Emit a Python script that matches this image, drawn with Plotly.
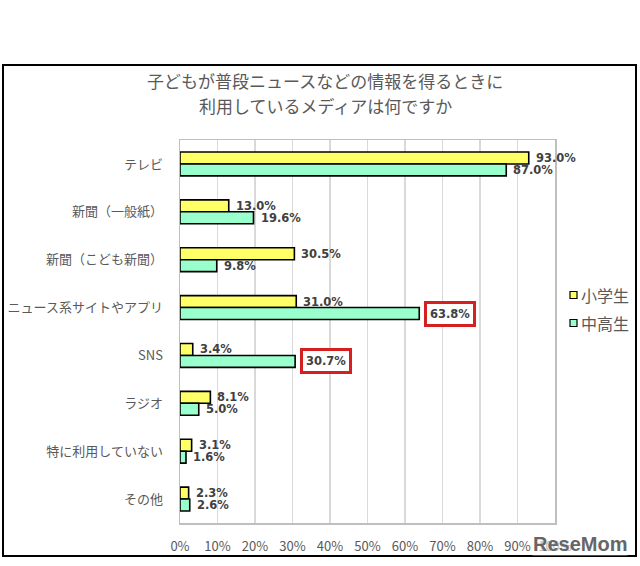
import plotly.graph_objects as go

categories = ["テレビ", "新聞（一般紙）", "新聞（こども新聞）", "ニュース系サイトやアプリ",
              "SNS", "ラジオ", "特に利用していない", "その他"]
elementary = [93.0, 13.0, 30.5, 31.0, 3.4, 8.1, 3.1, 2.3]
secondary = [87.0, 19.6, 9.8, 63.8, 30.7, 5.0, 1.6, 2.6]
series_names = ["小学生", "中高生"]
highlighted = {("中高生", "ニュース系サイトやアプリ"), ("中高生", "SNS")}
x_ticks = list(range(0, 101, 10))
x_tick_labels = [f"{t}%" for t in x_ticks]
title_lines = ["子どもが普段ニュースなどの情報を得るときに", "利用しているメディアは何ですか"]

FONT = "Noto Sans CJK JP, Noto Sans, sans-serif"
NUMFONT = "DejaVu Sans, Verdana, sans-serif"
GRAY = "#595959"
colors = ["#FFFF66", "#99FFCC"]

# plot-area pixel geometry helpers (plot area: x 180..555, y 140..523)
L, R, T, B = 180, 555, 140, 523
def px(x):
    return (x - L) / (R - L)
def py(y):
    return (B - y) / (B - T)

fig = go.Figure()
for name, vals, col in zip(series_names, [elementary, secondary], colors):
    fig.add_trace(go.Bar(
        y=categories, x=vals, name=name, orientation="h",
        marker=dict(color=col, line=dict(color="#000000", width=1.6)),
        showlegend=False,
    ))

# value labels
for name, vals, ysh in zip(series_names, [elementary, secondary], [6, -6]):
    for cat, v in zip(categories, vals):
        boxed = (name, cat) in highlighted
        fig.add_annotation(
            x=v, y=cat, xref="x", yref="y", text=f"<b>{v:.1f}%</b>",
            showarrow=False, xanchor="left", yanchor="middle",
            xshift=5 if boxed else 7, yshift=ysh,
            font=dict(family=NUMFONT, size=11.5, color="#404040"),
            bordercolor="#D61F1F" if boxed else "rgba(0,0,0,0)",
            borderwidth=3 if boxed else 0, borderpad=3 if boxed else 0,
            bgcolor="white" if boxed else "rgba(0,0,0,0)",
        )

# title
for i, line in enumerate(title_lines):
    fig.add_annotation(
        x=px(325), y=py(80 + 25 * i), xref="paper", yref="paper",
        text=line, showarrow=False, xanchor="center", yanchor="middle",
        font=dict(family=FONT, size=17, color=GRAY),
    )

# legend (drawn manually to match the reference placement)
for i, (name, col) in enumerate(zip(series_names, colors)):
    cy = 295 + 28 * i
    fig.add_shape(type="rect", xref="paper", yref="paper",
                  x0=px(570), x1=px(577), y0=py(cy + 3.5), y1=py(cy - 3.5),
                  line=dict(color="#000000", width=1.2), fillcolor=col)
    fig.add_annotation(
        x=px(579), y=py(cy), xref="paper", yref="paper", text=name,
        showarrow=False, xanchor="left", yanchor="middle",
        font=dict(family=FONT, size=16, color=GRAY),
    )

# watermark
fig.add_annotation(
    x=px(628), y=py(544), xref="paper", yref="paper",
    text="<b>ReseMom</b>", showarrow=False, xanchor="right", yanchor="middle",
    font=dict(family="Liberation Sans, Arial, sans-serif", size=20, color="#666666"),
    bgcolor="rgba(255,255,255,0.6)", borderpad=0,
)

# outer frame
fig.add_shape(type="rect", xref="paper", yref="paper",
              x0=px(3), x1=px(636), y0=py(556), y1=py(65),
              line=dict(color="#000000", width=2), fillcolor="rgba(0,0,0,0)", layer="below")

fig.update_layout(
    width=640, height=566,
    margin=dict(l=L, r=640 - R, t=T, b=566 - B, autoexpand=False),
    paper_bgcolor="white", plot_bgcolor="white",
    barmode="group", bargap=0.5, bargroupgap=0,
    showlegend=False,
    xaxis=dict(range=[0, 100], tickvals=x_ticks, ticktext=x_tick_labels,
               showgrid=True, gridcolor="#D9D9D9", gridwidth=1.5,
               showline=True, linecolor="#BFBFBF", linewidth=1.5, mirror=True,
               ticks="outside", ticklen=11, tickcolor="rgba(0,0,0,0)",
               tickfont=dict(family=FONT, size=13, color=GRAY), zeroline=False,
               automargin=False, fixedrange=True),
    yaxis=dict(autorange="reversed", showgrid=False,
               showline=True, linecolor="#BFBFBF", linewidth=1.5, mirror=True,
               ticks="outside", ticklen=13, tickcolor="rgba(0,0,0,0)",
               tickfont=dict(family=FONT, size=13, color=GRAY),
               automargin=False, fixedrange=True),
)

fig.write_html("out.html", config={"displayModeBar": False, "staticPlot": True},
               post_script="document.body.style.margin='0';document.body.style.overflow='hidden';")
